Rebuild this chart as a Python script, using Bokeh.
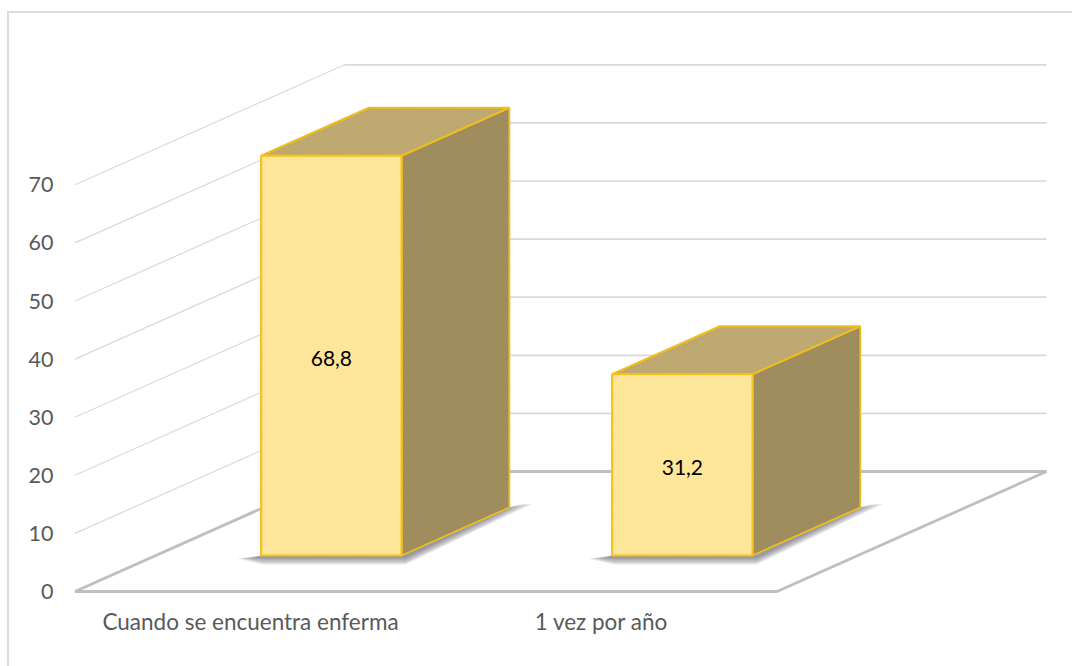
from bokeh.plotting import figure
from bokeh.models import FixedTicker, InlineStyleSheet
from bokeh.embed import file_html
from bokeh.resources import INLINE
from bokeh.core.properties import value

categories = ["Cuando se encuentra enferma", "1 vez por año"]
values = [68.8, 31.2]
labels = ["68,8", "31,2"]
y_ticks = [0, 10, 20, 30, 40, 50, 60, 70]

# Screen scale of the projected box
PX_PER_CAT = 351
PX_PER_UNIT = 5.81
FLOOR_DX = 269.5 / PX_PER_CAT  # x shift from the front to the back of the floor
FLOOR_DV = 120 / PX_PER_UNIT   # rise from the front to the back of the floor
BAR_WIDTH = 0.4
BAR_FRONT, BAR_BACK = 0.3, 0.7

LEFT, RIGHT, TOP, BOTTOM = 68, 1060, 55, 598
X0, Y0 = 74.5, 591

x_start = (LEFT - X0) / PX_PER_CAT
x_end = (RIGHT - X0) / PX_PER_CAT
y_start = (Y0 - BOTTOM) / PX_PER_UNIT
y_end = (Y0 - TOP) / PX_PER_UNIT

p = figure(width=1072, height=666, output_backend="svg", toolbar_location=None,
           x_range=(x_start, x_end), y_range=(y_start, y_end),
           min_border_left=LEFT, min_border_right=1072 - RIGHT,
           min_border_top=TOP, min_border_bottom=666 - BOTTOM)
p.grid.visible = False
p.outline_line_color = None
p.background_fill_color = "white"
p.border_fill_color = "white"

# Chart area border: left and top edges, running off the page
p.stylesheets = [InlineStyleSheet(css="""
:host::after {
  content: ""; position: absolute; left: 7px; top: 11px;
  width: 1065px; height: 655px; box-sizing: border-box;
  border-left: 2px solid #dcdcdc; border-top: 2px solid #dcdcdc;
  z-index: 10; pointer-events: none;
}
""")]

FONT = "Lato"
for ax in (p.xaxis[0], p.yaxis[0]):
    ax.axis_line_color = None
    ax.major_tick_line_color = None
    ax.minor_tick_line_color = None
    ax.major_tick_out = 0
    ax.major_tick_in = 0
    ax.minor_tick_out = 0
    ax.minor_tick_in = 0
    ax.major_label_text_font = FONT
    ax.major_label_text_color = "#595959"
p.yaxis[0].major_label_text_font_size = "21.5px"
p.xaxis[0].major_label_text_font_size = "22.5px"
p.yaxis[0].ticker = FixedTicker(ticks=y_ticks)
p.yaxis[0].major_label_standoff = 15
p.xaxis[0].ticker = FixedTicker(ticks=[i + 0.5 for i in range(len(categories))])
p.xaxis[0].major_label_overrides = {i + 0.5: c for i, c in enumerate(categories)}
p.xaxis[0].major_label_standoff = 9

n_cat = len(categories)

def proj(cat, depth, val):
    return cat + depth * FLOOR_DX, val + depth * FLOOR_DV

# Gridlines on the side wall and the back wall
for t in y_ticks[1:]:
    xs, ys = zip(proj(0, 0, t), proj(0, 1, t))
    p.line(list(xs), list(ys), line_color="#d9d9d9", line_width=1.2)
    xs, ys = zip(proj(0, 1, t), proj(n_cat, 1, t))
    p.line(list(xs), list(ys), line_color="#d9d9d9", line_width=1.7)

# Floor outline
fx, fy = zip(proj(0, 0, 0), proj(n_cat, 0, 0), proj(n_cat, 1, 0), proj(0, 1, 0), proj(0, 0, 0))
p.line(list(fx), list(fy), line_color="#bfbfbf", line_width=2.8)

HATCH = dict(hatch_pattern="right_diagonal_line", hatch_scale=5, hatch_weight=1.2)

for i, (v, lab) in enumerate(zip(values, labels)):
    cl = i + 0.5 - BAR_WIDTH / 2
    cr = i + 0.5 + BAR_WIDTH / 2
    fl0 = proj(cl, BAR_FRONT, 0)
    fr0 = proj(cr, BAR_FRONT, 0)
    br0 = proj(cr, BAR_BACK, 0)
    fl1 = proj(cl, BAR_FRONT, v)
    fr1 = proj(cr, BAR_FRONT, v)
    br1 = proj(cr, BAR_BACK, v)
    bl1 = proj(cl, BAR_BACK, v)

    # Soft contact shadow built from stacked translucent layers
    ux, uv = 1 / PX_PER_CAT, 1 / PX_PER_UNIT
    for k in range(6):
        depth = 9 - 1.3 * k
        sx = [fl0[0] - (24 - 3.5 * k) * ux, fl0[0], fr0[0], br0[0], br0[0] + (24 - 3.5 * k) * ux,
              br0[0] - 4 * ux, fr0[0] + 4 * ux, fr0[0] - 6 * ux, fl0[0] + 2 * ux]
        sy = [fl0[1] - 3 * uv, fl0[1], fr0[1], br0[1], br0[1] + 4 * uv,
              br0[1] - depth * uv, fr0[1] - depth * uv, fr0[1] - depth * uv, fl0[1] - depth * uv]
        p.patch(sx, sy, fill_color="#4e4e60", fill_alpha=0.13, line_color=None)

    # Side face
    p.patch([fr0[0], br0[0], br1[0], fr1[0]], [fr0[1], br0[1], br1[1], fr1[1]],
            fill_color="#a3905f", hatch_color="#98865a", hatch_alpha=0.7,
            line_color="#efbe1c", line_width=1.8, **HATCH)
    # Top face
    p.patch([fl1[0], fr1[0], br1[0], bl1[0]], [fl1[1], fr1[1], br1[1], bl1[1]],
            fill_color="#c4ae76", hatch_color="#b39e67", hatch_alpha=0.7,
            line_color="#efbe1c", line_width=2.0, **HATCH)
    # Front face
    p.patch([fl0[0], fr0[0], fr1[0], fl1[0]], [fl0[1], fr0[1], fr1[1], fl1[1]],
            fill_color="#ffe9a3", hatch_color="#fde28f", hatch_alpha=0.9,
            line_color="#f5c21a", line_width=2.2, **HATCH)
    # Value label on the front face
    p.text([i + 0.5 + BAR_FRONT * FLOOR_DX], [BAR_FRONT * FLOOR_DV + v / 2], text=[lab],
           text_font=value(FONT), text_font_size="21px", text_color="#000000",
           text_align="center", text_baseline="middle", y_offset=3)

open("out.html", "w").write(file_html(p, INLINE))
